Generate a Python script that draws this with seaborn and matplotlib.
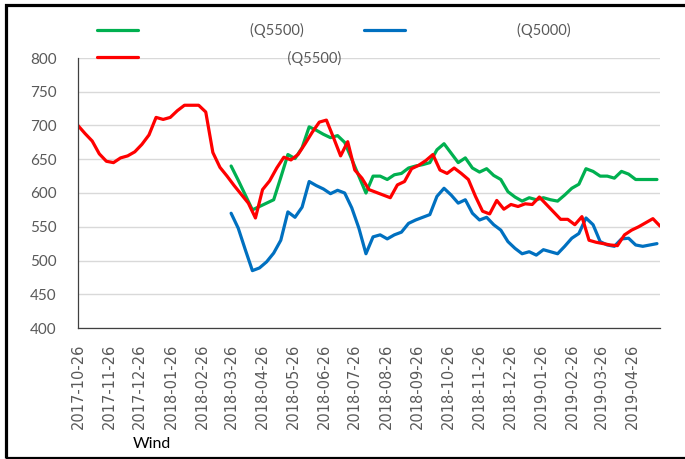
import numpy as np
import pandas as pd
import matplotlib
matplotlib.use('Agg')
import matplotlib.pyplot as plt
import matplotlib.dates as mdates
from matplotlib.patches import Rectangle
import seaborn as sns

sns.set_style('white')
plt.rcParams['font.family'] = ['Lato', 'DejaVu Sans']

# 周度价格数据
red_start = '2017-10-26'
red_vals = [700, 688, 677, 658, 647, 645, 652, 655, 661, 672,
            686, 712, 709, 712, 722, 730, 730, 730, 720, 660,
            638, 625, 611, 598, 585, 563, 605, 618, 637, 653,
            649, 657, 673, 690, 705, 708, 682, 655, 676, 634,
            622, 605, 601, 597, 593, 612, 617, 636, 641, 648,
            657, 634, 629, 637, 629, 620, 595, 573, 569, 589,
            576, 583, 580, 584, 583, 594, 583, 572, 561, 561,
            553, 565, 530, 527, 525, 523, 522, 538, 545, 550,
            556, 562, 551]

gb_start = '2018-03-26'
green_vals = [640, 619, 597, 575, 580, 585, 590, 623, 657, 651,
              667, 698, 693, 687, 682, 685, 675, 650, 625, 600,
              625, 625, 620, 627, 629, 637, 640, 642, 645, 664,
              673, 659, 645, 652, 637, 631, 636, 626, 620, 602,
              594, 588, 593, 590, 593, 590, 588, 597, 607, 613,
              636, 632, 625, 625, 622, 632, 628, 620, 620, 620, 620]
blue_vals = [570, 548, 516, 485, 489, 498, 511, 530, 572, 564,
             579, 617, 611, 606, 599, 604, 600, 578, 548, 510,
             535, 538, 532, 538, 542, 555, 560, 564, 568, 595,
             607, 597, 585, 590, 570, 560, 564, 553, 545, 528,
             518, 510, 513, 508, 516, 513, 510, 521, 533, 540,
             563, 553, 528, 523, 521, 532, 533, 523, 521, 523, 525]

green_label = '(Q5500)'
blue_label = '(Q5000)'
red_label = '(Q5500)'

tick_labels = ['2017-10-26', '2017-11-26', '2017-12-26', '2018-01-26', '2018-02-26',
               '2018-03-26', '2018-04-26', '2018-05-26', '2018-06-26', '2018-07-26',
               '2018-08-26', '2018-09-26', '2018-10-26', '2018-11-26', '2018-12-26',
               '2019-01-26', '2019-02-26', '2019-03-26', '2019-04-26']
y_ticks = [400, 450, 500, 550, 600, 650, 700, 750, 800]

df_red = pd.DataFrame({'date': pd.date_range(red_start, periods=len(red_vals), freq='7D'),
                       'price': red_vals})
gb_dates = pd.date_range(gb_start, periods=len(green_vals), freq='7D')
df_green = pd.DataFrame({'date': gb_dates, 'price': green_vals})
df_blue = pd.DataFrame({'date': gb_dates, 'price': blue_vals})

fig = plt.figure(figsize=(6.85, 4.59), dpi=100)
ax = fig.add_axes([78 / 685, 1 - 328 / 459, 582 / 685, 270 / 459])

lw = 2.3
sns.lineplot(data=df_green, x='date', y='price', ax=ax, color='#00B050', linewidth=lw, label=green_label)
sns.lineplot(data=df_blue, x='date', y='price', ax=ax, color='#0070C0', linewidth=lw, label=blue_label)
sns.lineplot(data=df_red, x='date', y='price', ax=ax, color='#FF0000', linewidth=lw, label=red_label)

# 坐标轴
ax.set_xlim(df_red['date'].iloc[0], df_red['date'].iloc[-1])
ax.set_ylim(400, 800)
ax.set_yticks(y_ticks)
ax.set_xticks(pd.to_datetime(tick_labels))
ax.set_xticklabels(tick_labels, rotation=90, fontsize=10.5, color='#595959',
                   family=['DejaVu Sans'])
ax.tick_params(axis='y', labelsize=11, labelcolor='#595959', direction='out',
               length=4.5, width=0.9, color='#404040', pad=11)
ax.tick_params(axis='x', direction='out', length=4.5, width=0.9, color='#404040', pad=7)
ax.set_xlabel('')
ax.set_ylabel('')

ax.yaxis.grid(True, color='#D9D9D9', linewidth=1.0)
ax.xaxis.grid(False)
ax.set_axisbelow(True)
for s in ['top', 'right']:
    ax.spines[s].set_visible(False)
for s in ['left', 'bottom']:
    ax.spines[s].set_color('#404040')
    ax.spines[s].set_linewidth(0.9)

# 图例
h, l = ax.get_legend_handles_labels()
pad1 = ' ' * 28
pad2 = ' ' * 38
leg = ax.legend([h[0], h[2], h[1]],
                [pad1 + green_label, pad2 + red_label, pad1 + blue_label],
                ncol=2, loc='upper left', bbox_to_anchor=(97 / 685, 1 - 23 / 459),
                bbox_transform=fig.transFigure, frameon=False, borderpad=0,
                borderaxespad=0, handlelength=2.8, handletextpad=0.5,
                columnspacing=1.57, labelspacing=0.85, fontsize=10.5,
                labelcolor='#595959')

fig.text(133 / 685, 1 - 444 / 459, 'Wind', fontsize=11.5, color='black',
         ha='left', va='center')

fig.patches.append(Rectangle((6 / 685, 1 / 459), 1.1, 453.5 / 459, transform=fig.transFigure,
                             fill=False, edgecolor='black', linewidth=2.3, clip_on=False))

fig.savefig('out.png', dpi=100)
